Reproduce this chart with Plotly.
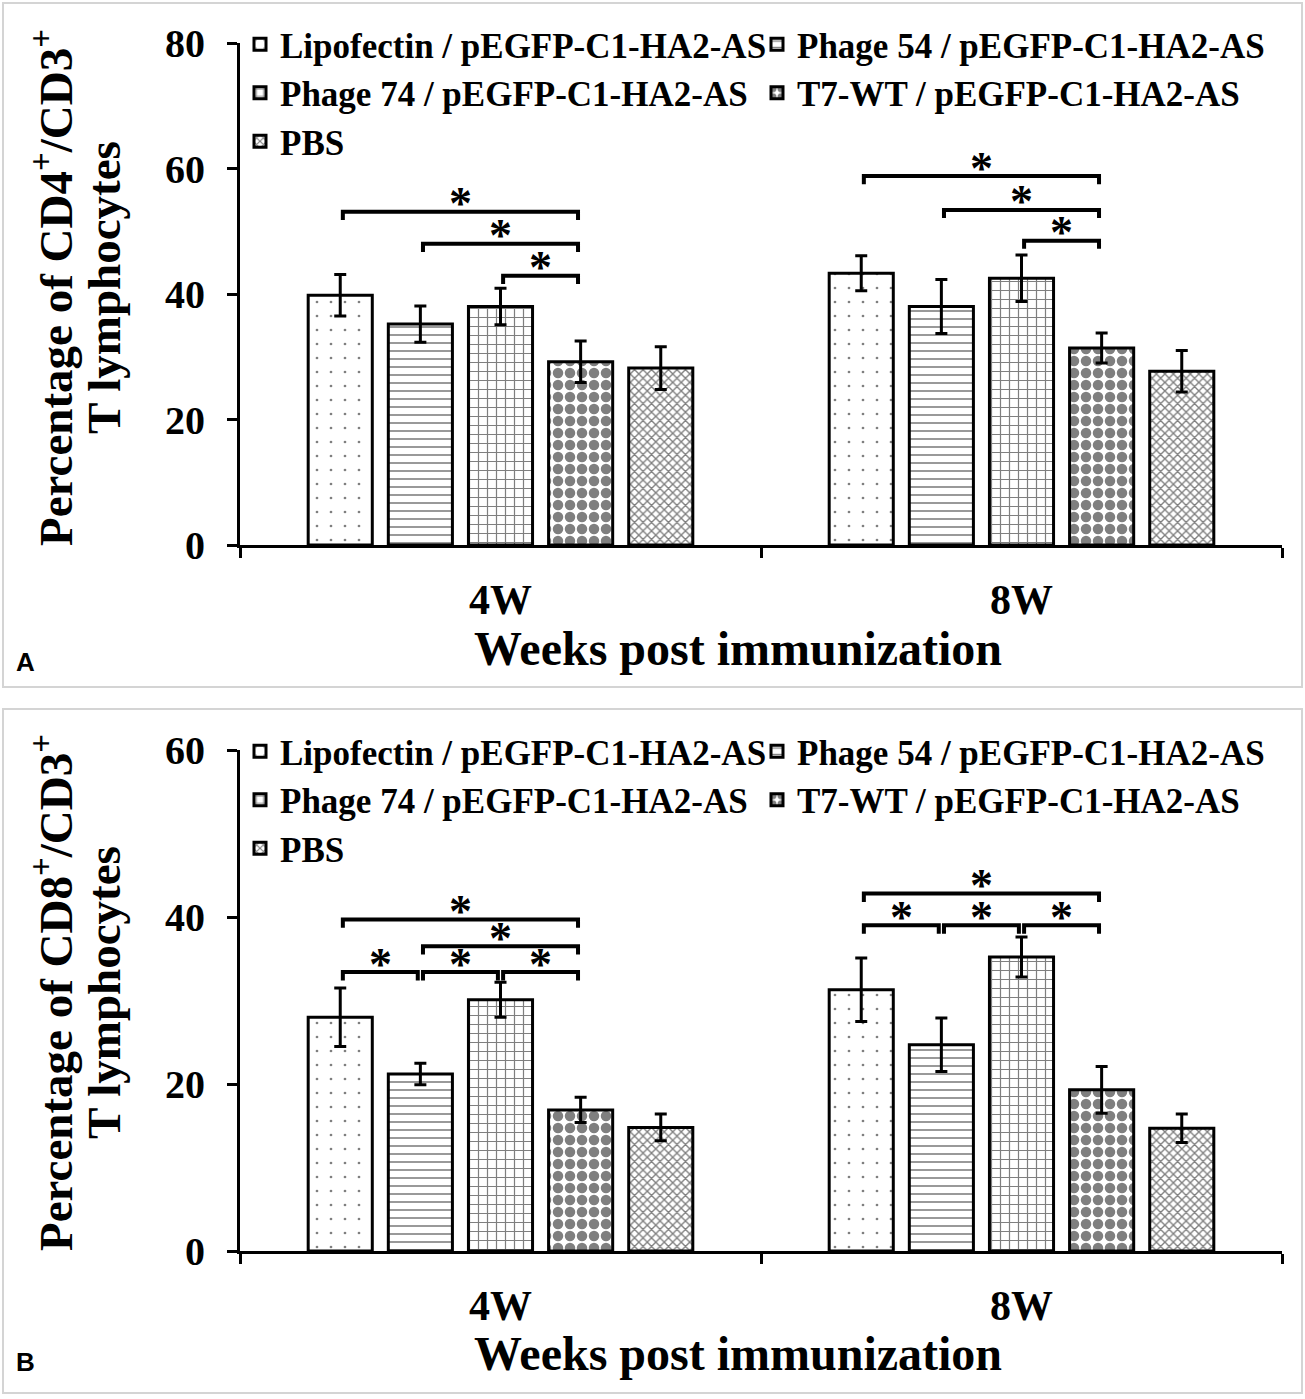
import plotly.graph_objects as go

# groups and series
weeks = ["4W", "8W"]
series = [
    "Lipofectin / pEGFP-C1-HA2-AS",
    "Phage 54 / pEGFP-C1-HA2-AS",
    "Phage 74 / pEGFP-C1-HA2-AS",
    "T7-WT / pEGFP-C1-HA2-AS",
    "PBS",
]

# panel A: CD4+/CD3+ (%), mean and error per series, [4W, 8W]
cd4_lipo = [39.8, 43.3]
cd4_p54 = [35.2, 38.0]
cd4_p74 = [38.0, 42.5]
cd4_t7 = [29.2, 31.4]
cd4_pbs = [28.2, 27.7]
cd4_lipo_err = [3.3, 2.8]
cd4_p54_err = [2.9, 4.3]
cd4_p74_err = [2.9, 3.7]
cd4_t7_err = [3.3, 2.4]
cd4_pbs_err = [3.4, 3.3]

# panel B: CD8+/CD3+ (%)
cd8_lipo = [28.0, 31.3]
cd8_p54 = [21.2, 24.7]
cd8_p74 = [30.1, 35.2]
cd8_t7 = [16.9, 19.3]
cd8_pbs = [14.8, 14.7]
cd8_lipo_err = [3.5, 3.8]
cd8_p54_err = [1.3, 3.2]
cd8_p74_err = [2.1, 2.4]
cd8_t7_err = [1.5, 2.8]
cd8_pbs_err = [1.6, 1.7]

# significance brackets: (week index, from series, to series, level)
cd4_sig = [(0, 0, 3, 53.1), (0, 1, 3, 48.0), (0, 2, 3, 42.9),
           (1, 0, 3, 58.8), (1, 1, 3, 53.4), (1, 2, 3, 48.5)]
cd8_sig = [(0, 0, 3, 39.7), (0, 1, 3, 36.5), (0, 0, 1, 33.4), (0, 1, 2, 33.4), (0, 2, 3, 33.4),
           (1, 0, 3, 42.8), (1, 0, 1, 39.0), (1, 1, 2, 39.0), (1, 2, 3, 39.0)]

patterns = [
    dict(shape=".", size=14, solidity=0.03),
    dict(shape="-", size=8, solidity=0.2),
    dict(shape="+", size=9, solidity=0.25),
    dict(shape=".", size=12, solidity=0.6),
    dict(shape="x", size=6, solidity=0.4),
]

FONT = "Liberation Serif"
W, H = 1305, 1399
BARGAP = 0.231
SLOT = (1 - BARGAP) / len(series)

fig = go.Figure()

panels = [
    dict(x="x", y="y", legend="legend",
         means=[cd4_lipo, cd4_p54, cd4_p74, cd4_t7, cd4_pbs],
         errs=[cd4_lipo_err, cd4_p54_err, cd4_p74_err, cd4_t7_err, cd4_pbs_err],
         sig=cd4_sig, drop=1.3),
    dict(x="x2", y="y2", legend="legend2",
         means=[cd8_lipo, cd8_p54, cd8_p74, cd8_t7, cd8_pbs],
         errs=[cd8_lipo_err, cd8_p54_err, cd8_p74_err, cd8_t7_err, cd8_pbs_err],
         sig=cd8_sig, drop=1.0),
]

for p in panels:
    for i, name in enumerate(series):
        fig.add_trace(go.Bar(
            x=weeks, y=p["means"][i], name=name,
            xaxis=p["x"], yaxis=p["y"], legend=p["legend"],
            marker=dict(color="white", line=dict(color="black", width=3),
                        pattern=dict(fgcolor="black", bgcolor="white", **patterns[i])),
            error_y=dict(type="data", array=p["errs"][i], color="black",
                         thickness=3, width=6),
        ))

shapes = []
annotations = []
for p in panels:
    for g, a, b, lvl in p["sig"]:
        x0 = g + (a - 2) * SLOT + 0.005
        x1 = g + (b - 2) * SLOT - 0.005
        d = p["drop"]
        shapes.append(dict(
            type="path", xref=p["x"], yref=p["y"],
            path=f"M {x0},{lvl - d} L {x0},{lvl} L {x1},{lvl} L {x1},{lvl - d}",
            line=dict(color="black", width=4)))
        annotations.append(dict(
            x=(x0 + x1) / 2, y=lvl, xref=p["x"], yref=p["y"], text="*",
            showarrow=False, yanchor="middle", yshift=8,
            font=dict(family=FONT, size=46, color="black", weight="bold")))

# panel frames
for top, bot in [(3, 687), (709, 1393)]:
    shapes.append(dict(type="rect", xref="paper", yref="paper",
                       x0=3 / W, x1=1302 / W, y0=1 - bot / H, y1=1 - top / H,
                       line=dict(color="#d4d4d4", width=2)))

ytitles = [
    ("Percentage of CD4<sup>+</sup>/CD3<sup>+</sup>", 288),
    ("Percentage of CD8<sup>+</sup>/CD3<sup>+</sup>", 993),
]
for txt, yc in ytitles:
    annotations.append(dict(x=52 / W, y=1 - yc / H, xref="paper", yref="paper",
                            text=txt, textangle=-90, showarrow=False,
                            xanchor="center", yanchor="middle",
                            font=dict(family=FONT, size=47, color="black", weight="bold")))
    annotations.append(dict(x=104 / W, y=1 - yc / H, xref="paper", yref="paper",
                            text="T lymphocytes", textangle=-90, showarrow=False,
                            xanchor="center", yanchor="middle",
                            font=dict(family=FONT, size=47, color="black", weight="bold")))

for yc in [648, 1353]:
    annotations.append(dict(x=738 / W, y=1 - yc / H, xref="paper", yref="paper",
                            text="Weeks post immunization", showarrow=False,
                            xanchor="center", yanchor="middle",
                            font=dict(family=FONT, size=48, color="black", weight="bold")))

for lab, yc in [("A", 662), ("B", 1362)]:
    annotations.append(dict(x=14 / W, y=1 - yc / H, xref="paper", yref="paper",
                            text=lab, showarrow=False, xanchor="left", yanchor="middle",
                            font=dict(family="Liberation Sans", size=26, color="black",
                                      weight="bold")))

xdom = [240 / W, 1282 / W]
xax = dict(domain=xdom, showline=True, linecolor="black", linewidth=3,
           ticks="outside", tickson="boundaries", ticklen=10, tickwidth=3,
           tickcolor="black", ticklabelstandoff=16, automargin=False,
           tickfont=dict(family=FONT, size=42, color="black", weight="bold"),
           showgrid=False, zeroline=False)
yax = dict(showline=True, linecolor="black", linewidth=3, ticks="outside",
           ticklen=10, tickwidth=3, tickcolor="black", ticklabelstandoff=14,
           automargin=False,
           tickfont=dict(family=FONT, size=40, color="black", weight="bold"),
           showgrid=False, zeroline=False)

legend_style = dict(orientation="h", xanchor="left", yanchor="top",
                    entrywidth=472, entrywidthmode="pixels",
                    bgcolor="rgba(0,0,0,0)", tracegroupgap=0,
                    font=dict(family=FONT, size=35, color="black", weight="bold"))

fig.update_layout(
    width=W, height=H,
    margin=dict(l=0, r=0, t=0, b=0, autoexpand=False),
    paper_bgcolor="white", plot_bgcolor="white",
    barmode="group", bargap=BARGAP, bargroupgap=0.2,
    xaxis=dict(xax, anchor="y"),
    yaxis=dict(yax, domain=[1 - 545 / H, 1 - 43 / H], range=[0, 80], dtick=20, anchor="x"),
    xaxis2=dict(xax, anchor="y2"),
    yaxis2=dict(yax, domain=[1 - 1251 / H, 1 - 750 / H], range=[0, 60], dtick=20, anchor="x2"),
    legend=dict(legend_style, x=240 / W, y=1 - 15 / H),
    legend2=dict(legend_style, x=240 / W, y=1 - 722 / H),
    shapes=shapes,
    annotations=annotations,
    showlegend=True,
)

fig.write_html("out.html", config={"displayModeBar": False},
               post_script="document.body.style.margin = '0px';")
